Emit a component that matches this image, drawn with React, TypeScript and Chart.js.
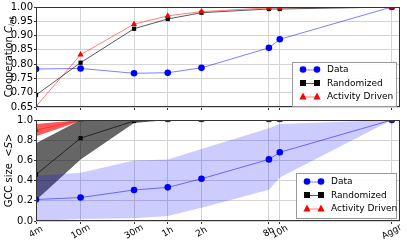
import React, { useEffect, useRef } from "react";
import { Chart, registerables } from "chart.js";
Chart.register(...registerables);

// ---- data ----
const categories = ["4m", "10m", "30m", "1h", "2h", "8h", "10h", "Aggr"];
const xMinutes = [4, 10, 30, 60, 120, 480, 600, 6000];
const seriesNames = ["Data", "Randomized", "Activity Driven"];

const yTicksTop = [0.65, 0.7, 0.75, 0.8, 0.85, 0.9, 0.95, 1.0];
const yTicksBottom = [0.0, 0.2, 0.4, 0.6, 0.8, 1.0];

const coopData = [0.783, 0.785, 0.768, 0.77, 0.787, 0.857, 0.887, 1.0];
const coopRandom = [0.692, 0.805, 0.924, 0.958, 0.98, 0.993, 0.993, 1.0];
const coopActivity = [0.652, 0.833, 0.94, 0.969, 0.984, 0.997, 0.997, 1.0];

const gccData = [0.213, 0.232, 0.307, 0.333, 0.418, 0.61, 0.68, 1.0];
const gccDataLow = [0.0, 0.02, 0.026, 0.05, 0.13, 0.31, 0.43, 1.0];
const gccDataHigh = [0.448, 0.477, 0.598, 0.61, 0.713, 0.918, 0.96, 1.0];
const gccRandom = [0.46, 0.82, 0.99, 1.0, 1.0, 1.0, 1.0, 1.0];
const gccRandomLow = [0.206, 0.61, 0.97, 1.0, 1.0, 1.0, 1.0, 1.0];
const gccRandomHigh = [0.77, 1.0, 1.0, 1.0, 1.0, 1.0, 1.0, 1.0];
const gccActivity = [0.9, 0.997, 1.0, 1.0, 1.0, 1.0, 1.0, 1.0];
const gccActivityLow = [0.84, 0.99, 1.0, 1.0, 1.0, 1.0, 1.0, 1.0];
const gccActivityHigh = [0.96, 1.0, 1.0, 1.0, 1.0, 1.0, 1.0, 1.0];

// ---- styles ----
const FONT = '"DejaVu Sans", sans-serif';
const styles = [
  { color: "#0000ff", line: "rgba(0,0,255,0.5)", shape: "circle", r: 3.3 },
  { color: "#000000", line: "rgba(0,0,0,0.65)", shape: "rect", r: 3.0 },
  { color: "#ff0000", line: "rgba(255,0,0,0.5)", shape: "triangle", r: 3.6 },
];

const pts = (arr: number[]) => arr.map((y, i) => ({ x: xMinutes[i], y }));

function lineDs(label: string, arr: number[], k: number, order: number) {
  const s = styles[k];
  return {
    label,
    data: pts(arr),
    borderColor: s.line,
    borderWidth: 1,
    backgroundColor: s.color,
    pointBackgroundColor: s.color,
    pointBorderColor: s.color,
    pointBorderWidth: 0,
    pointStyle: s.shape,
    pointRadius: s.r,
    fill: false,
    tension: 0,
    order,
    clip: 0,
  };
}

function bandDs(low: number[], high: number[], color: string, order: number) {
  return [
    {
      label: "_low",
      data: pts(low),
      borderWidth: 0,
      borderColor: "rgba(0,0,0,0)",
      pointRadius: 0,
      fill: false,
      order,
      clip: 0,
    },
    {
      label: "_high",
      data: pts(high),
      borderWidth: 0,
      borderColor: "rgba(0,0,0,0)",
      pointRadius: 0,
      fill: "-1",
      backgroundColor: color,
      order,
      clip: 0,
    },
  ];
}

function drawMarker(ctx: CanvasRenderingContext2D, shape: string, x: number, y: number, r: number, color: string) {
  ctx.fillStyle = color;
  ctx.beginPath();
  if (shape === "circle") {
    ctx.arc(x, y, r, 0, Math.PI * 2);
  } else if (shape === "rect") {
    ctx.rect(x - r, y - r, 2 * r, 2 * r);
  } else {
    ctx.moveTo(x, y - r * 1.1);
    ctx.lineTo(x + r, y + r * 0.8);
    ctx.lineTo(x - r, y + r * 0.8);
    ctx.closePath();
  }
  ctx.fill();
}

const framePlugin = {
  id: "frame",
  afterDatasetsDraw(chart: any) {
    const { ctx, chartArea: a } = chart;
    ctx.save();
    ctx.strokeStyle = "#333";
    ctx.lineWidth = 1;
    ctx.strokeRect(Math.round(a.left) + 0.5, Math.round(a.top) + 0.5, Math.round(a.right - a.left) - 1, Math.round(a.bottom - a.top) - 1);
    ctx.restore();
  },
};

const legendPlugin = {
  id: "mplLegend",
  afterDraw(chart: any, _args: any, opts: any) {
    const { ctx } = chart;
    const { x, y, w, h, dy, first } = opts;
    ctx.save();
    ctx.fillStyle = "rgba(255,255,255,0.9)";
    ctx.fillRect(x, y, w, h);
    ctx.strokeStyle = "#999";
    ctx.lineWidth = 1;
    ctx.strokeRect(x + 0.5, y + 0.5, w, h);
    seriesNames.forEach((name, i) => {
      const s = styles[i];
      const cy = y + first + i * dy;
      ctx.strokeStyle = s.line;
      ctx.lineWidth = 1;
      ctx.beginPath();
      ctx.moveTo(x + 11, cy + 0.5);
      ctx.lineTo(x + 25, cy + 0.5);
      ctx.stroke();
      drawMarker(ctx, s.shape, x + 11, cy, s.r, s.color);
      drawMarker(ctx, s.shape, x + 25, cy, s.r, s.color);
      ctx.fillStyle = "#000";
      ctx.font = `9px ${FONT}`;
      ctx.textAlign = "left";
      ctx.textBaseline = "middle";
      ctx.fillText(name, x + 35, cy + 0.5);
    });
    ctx.restore();
  },
};

const xLabelPlugin = {
  id: "xLabels",
  afterDraw(chart: any, _args: any, opts: any) {
    if (!opts.show) return;
    const { ctx } = chart;
    const xs = chart.scales.x;
    ctx.save();
    ctx.fillStyle = "#000";
    ctx.font = `9px ${FONT}`;
    categories.forEach((c, i) => {
      const px = xs.getPixelForValue(xMinutes[i]);
      ctx.save();
      ctx.translate(px, chart.chartArea.bottom + 11);
      ctx.rotate(-Math.PI / 6);
      ctx.textAlign = "center";
      ctx.textBaseline = "middle";
      ctx.fillText(c, 0, 0);
      ctx.restore();
    });
    ctx.restore();
  },
};

const yTitlePlugin = {
  id: "yTitle",
  afterDraw(chart: any, _args: any, opts: any) {
    const { ctx, chartArea: a } = chart;
    const pieces = opts.pieces as { t: string; f: string; dy: number }[];
    ctx.save();
    let total = 0;
    pieces.forEach((p) => {
      ctx.font = p.f;
      total += ctx.measureText(p.t).width;
    });
    ctx.translate(opts.x, (a.top + a.bottom) / 2);
    ctx.rotate(-Math.PI / 2);
    ctx.fillStyle = "#000";
    ctx.textBaseline = "middle";
    ctx.textAlign = "left";
    let cx = -total / 2;
    pieces.forEach((p) => {
      ctx.font = p.f;
      ctx.fillText(p.t, cx, p.dy);
      cx += ctx.measureText(p.t).width;
    });
    ctx.restore();
  },
};

function makeOptions(yMin: number, yMax: number, yTicks: number[], digits: number, xHeight: number, showX: boolean, legend: any, titlePieces: any) {
  return {
    responsive: false,
    animation: false,
    devicePixelRatio: 1,
    layout: { autoPadding: false, padding: { left: 0, right: 7, top: 6, bottom: 0 } },
    plugins: {
      legend: { display: false },
      tooltip: { enabled: false },
      mplLegend: legend,
      xLabels: { show: showX },
      yTitle: { x: 9, pieces: titlePieces },
    },
    scales: {
      x: {
        type: "logarithmic",
        min: 4,
        max: 7100,
        bounds: "data",
        afterBuildTicks: (s: any) => {
          s.ticks = xMinutes.map((v) => ({ value: v }));
        },
        afterFit: (s: any) => {
          s.height = xHeight;
        },
        ticks: { display: false, autoSkip: false },
        grid: { color: "#d4d4d4", lineWidth: 1, drawTicks: true, tickLength: 3, tickColor: "#333" },
        border: { display: false },
      },
      y: {
        type: "linear",
        min: yMin,
        max: yMax,
        afterBuildTicks: (s: any) => {
          s.ticks = yTicks.map((v) => ({ value: v }));
        },
        afterFit: (s: any) => {
          s.width = 36;
        },
        ticks: {
          color: "#000",
          font: { family: FONT, size: 10 },
          padding: 1,
          autoSkip: false,
          callback: (v: any) => Number(v).toFixed(digits),
        },
        grid: { color: "#d4d4d4", lineWidth: 1, drawTicks: true, tickLength: 2, tickColor: "#333" },
        border: { display: false },
      },
    },
  };
}

export default function App() {
  const topRef = useRef<HTMLCanvasElement>(null);
  const botRef = useRef<HTMLCanvasElement>(null);

  useEffect(() => {
    const top = new Chart(topRef.current as HTMLCanvasElement, {
      type: "line",
      data: {
        datasets: [
          lineDs(seriesNames[0], coopData, 0, 3),
          lineDs(seriesNames[1], coopRandom, 1, 2),
          lineDs(seriesNames[2], coopActivity, 2, 1),
        ] as any,
      },
      options: makeOptions(
        0.65,
        1.0,
        yTicksTop,
        2,
        6,
        false,
        { x: 292, y: 62, w: 104, h: 44, dy: 13.5, first: 7.5 },
        [
          { t: "Cooperation ", f: `10px ${FONT}`, dy: 0 },
          { t: "C", f: `italic 10px ${FONT}`, dy: 0 },
          { t: "int", f: `italic 7px ${FONT}`, dy: 3 },
        ]
      ) as any,
      plugins: [framePlugin, legendPlugin, xLabelPlugin, yTitlePlugin],
    });

    const bot = new Chart(botRef.current as HTMLCanvasElement, {
      type: "line",
      data: {
        datasets: [
          lineDs(seriesNames[0], gccData, 0, 3),
          lineDs(seriesNames[1], gccRandom, 1, 2),
          lineDs(seriesNames[2], gccActivity, 2, 1),
          ...bandDs(gccDataLow, gccDataHigh, "rgba(0,0,255,0.2)", 10),
          ...bandDs(gccRandomLow, gccRandomHigh, "rgba(0,0,0,0.6)", 12),
          ...bandDs(gccActivityLow, gccActivityHigh, "rgba(255,0,0,0.65)", 11),
        ] as any,
      },
      options: makeOptions(
        0,
        1.0,
        yTicksBottom,
        1,
        23,
        true,
        { x: 296, y: 60, w: 100, h: 45, dy: 13.5, first: 8.5 },
        [
          { t: "GCC size  <", f: `10px ${FONT}`, dy: 0 },
          { t: "S", f: `italic 10px ${FONT}`, dy: 0 },
          { t: ">", f: `10px ${FONT}`, dy: 0 },
        ]
      ) as any,
      plugins: [framePlugin, legendPlugin, xLabelPlugin, yTitlePlugin],
    });

    return () => {
      top.destroy();
      bot.destroy();
    };
  }, []);

  return (
    <div style={{ position: "absolute", left: 0, top: 0, width: 407, height: 244, background: "#fff" }}>
      <canvas ref={topRef} width={407} height={114} style={{ position: "absolute", left: 0, top: 0, width: 407, height: 114 }} />
      <canvas ref={botRef} width={407} height={131} style={{ position: "absolute", left: 0, top: 113, width: 407, height: 131 }} />
    </div>
  );
}
